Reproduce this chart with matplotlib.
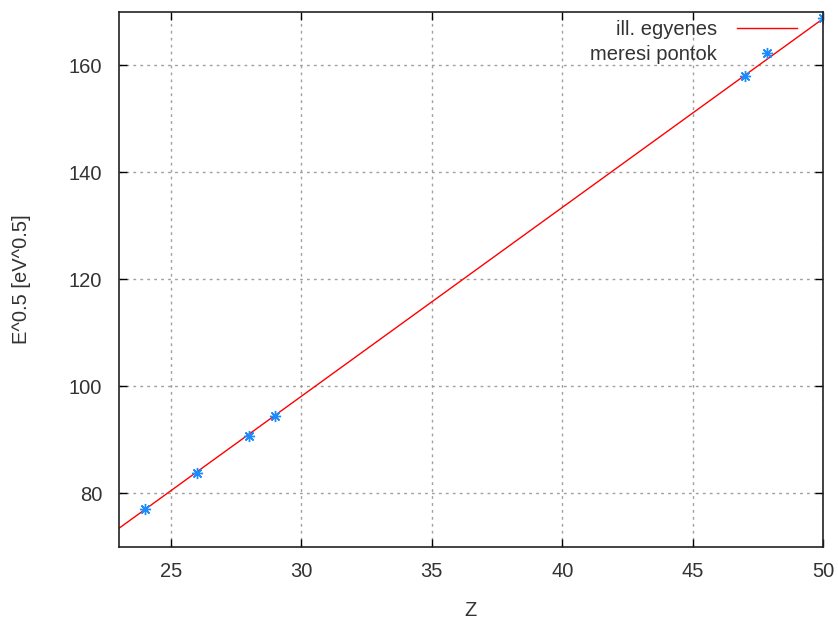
import matplotlib
matplotlib.use("Agg")
import matplotlib.pyplot as plt

# measured points (Z, sqrt(E))
z_points = [24, 26, 28, 29, 47, 50]
sqrtE_points = [77.1, 83.9, 90.7, 94.5, 158.1, 168.8]

# fitted line end points
fit_z = [23, 50]
fit_sqrtE = [73.5, 168.7]

x_ticks = [25, 30, 35, 40, 45, 50]
y_ticks = [80, 100, 120, 140, 160]

plt.rcParams["font.family"] = ["Liberation Sans", "DejaVu Sans"]
text_color = "#333333"
fs = 14.5

fig = plt.figure(figsize=(8.38, 6.23), dpi=100)
ax = fig.add_axes([0.142, 0.122, 0.840, 0.859])

ax.plot(fit_z, fit_sqrtE, color="#ff0000", linewidth=1.0, label="ill. egyenes")
ax.plot(z_points, sqrtE_points, linestyle="none", marker=(8, 2, 0), markersize=8,
        markeredgewidth=1.0, color="#1a8cff", label="meresi pontok")

ax.set_xlim(23, 50)
ax.set_ylim(70, 170)
ax.set_xticks(x_ticks)
ax.set_yticks(y_ticks)

ax.grid(True, color="#a0a0a0", linestyle=(0, (2, 3)), linewidth=1.0)
ax.tick_params(direction="in", length=6, width=1, top=True, right=True,
               labelsize=fs, labelcolor=text_color, pad=11)
ax.tick_params(axis="y", pad=12)
for s in ax.spines.values():
    s.set_linewidth(1.2)
    s.set_color("#222222")

ax.set_xlabel("Z", fontsize=fs, color=text_color, labelpad=14)
ax.set_ylabel("E^0.5 [eV^0.5]", fontsize=fs, color=text_color, labelpad=27)

leg = ax.legend(loc="upper right", bbox_to_anchor=(0.975, 1.0), frameon=False,
                markerfirst=False, handlelength=3.0, handletextpad=1.0,
                fontsize=fs, labelspacing=0.3, borderaxespad=0.0)
for t in leg.get_texts():
    t.set_color(text_color)

fig.savefig("out.png", dpi=100)
